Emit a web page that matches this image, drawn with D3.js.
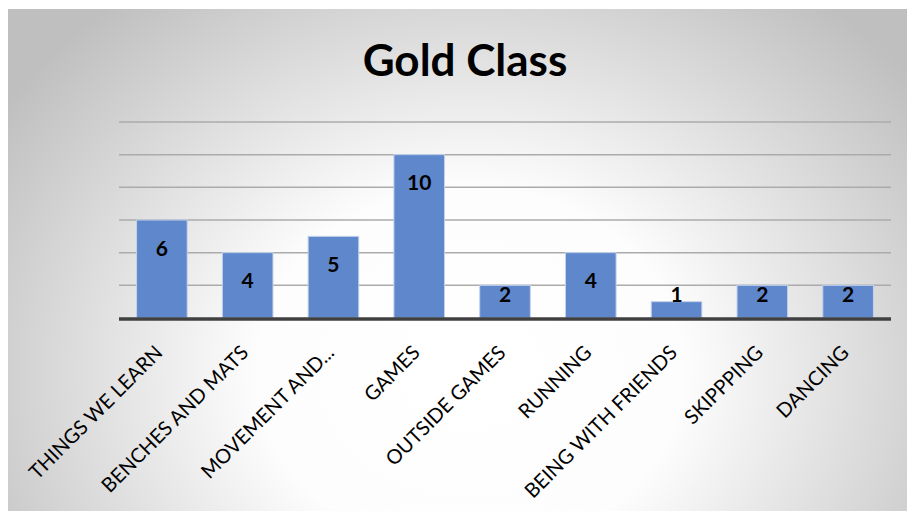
<!DOCTYPE html>
<html>
<head>
<meta charset="utf-8">
<script src="https://cdn.jsdelivr.net/npm/d3@7"></script>
<style>
  body { margin: 0; background: #ffffff; }
  svg { display: block; }
</style>
</head>
<body>
<svg id="chart"></svg>
<script>
// data
var categories = ["THINGS WE LEARN", "BENCHES AND MATS", "MOVEMENT AND...", "GAMES",
  "OUTSIDE GAMES", "RUNNING", "BEING WITH FRIENDS", "SKIPPPING", "DANCING"];
var counts = [6, 4, 5, 10, 2, 4, 1, 2, 2];
var yTicks = [0, 2, 4, 6, 8, 10, 12];
var chartTitle = "Gold Class";

var W = 907, H = 511;
var margin = { top: 0, right: 16, bottom: 193, left: 119 };

var svg = d3.select("#chart").attr("width", W).attr("height", H);

// background panel with radial gradient
var defs = svg.append("defs");
var grad = defs.append("radialGradient")
  .attr("id", "bg")
  .attr("gradientUnits", "userSpaceOnUse")
  .attr("cx", 470).attr("cy", 370).attr("r", 560)
  .attr("gradientTransform", "translate(470,370) scale(1,0.85) translate(-470,-370)");
grad.append("stop").attr("offset", "0").attr("stop-color", "#ffffff");
grad.append("stop").attr("offset", "0.38").attr("stop-color", "#fdfdfd");
grad.append("stop").attr("offset", "1").attr("stop-color", "#bfbfbf");

svg.append("rect")
  .attr("x", 8).attr("y", 9)
  .attr("width", W - 8).attr("height", H - 9)
  .attr("fill", "url(#bg)");

var x = d3.scaleBand()
  .domain(categories)
  .range([margin.left, W - margin.right])
  .paddingInner(0.41)
  .paddingOuter(0.205);

var y = d3.scaleLinear()
  .domain([0, 12])
  .range([H - margin.bottom, 122]);

// gridlines
svg.append("g")
  .selectAll("line")
  .data(yTicks.filter(function(d){ return d > 0; }))
  .enter()
  .append("line")
  .attr("x1", margin.left)
  .attr("x2", W - margin.right)
  .attr("y1", function(d){ return y(d); })
  .attr("y2", function(d){ return y(d); })
  .attr("stroke", "#ababab")
  .attr("stroke-width", 1.5);

// bars
svg.append("g")
  .selectAll("rect")
  .data(counts)
  .enter()
  .append("rect")
  .attr("x", function(d, i){ return x(categories[i]); })
  .attr("y", function(d){ return y(d); })
  .attr("width", x.bandwidth())
  .attr("height", function(d){ return y(0) - y(d); })
  .attr("fill", "#5f87cb")
  .attr("stroke", "#c4d2ec")
  .attr("stroke-width", 1);

// baseline
svg.append("line")
  .attr("x1", margin.left)
  .attr("x2", W - margin.right)
  .attr("y1", y(0) + 1)
  .attr("y2", y(0) + 1)
  .attr("stroke", "#404040")
  .attr("stroke-width", 3.5);

// value labels
svg.append("g")
  .selectAll("text")
  .data(counts)
  .enter()
  .append("text")
  .attr("x", function(d, i){ return x(categories[i]) + x.bandwidth() / 2; })
  .attr("y", function(d){ return Math.min(y(d) + 28, y(0) - 24); })
  .attr("dy", "0.36em")
  .attr("text-anchor", "middle")
  .style("font-family", "Lato, 'Open Sans', sans-serif")
  .style("font-weight", "bold")
  .style("font-size", "21px")
  .attr("fill", "#000")
  .text(function(d){ return d; });

// category labels, rotated
svg.append("g")
  .selectAll("text")
  .data(categories)
  .enter()
  .append("text")
  .attr("transform", function(d){
    return "translate(" + (x(d) + x.bandwidth() / 2 - 3) + "," + (y(0) + 31) + ") rotate(-45)";
  })
  .attr("text-anchor", "end")
  .attr("dy", "0.35em")
  .style("font-family", "Lato, 'Open Sans', sans-serif")
  .style("font-size", "20px")
  .attr("fill", "#000")
  .text(function(d){ return d; });

// title
svg.append("text")
  .attr("x", 465)
  .attr("y", 76)
  .attr("text-anchor", "middle")
  .style("font-family", "Lato, 'Open Sans', sans-serif")
  .style("font-weight", "bold")
  .style("font-size", "44px")
  .attr("fill", "#000")
  .text(chartTitle);
</script>
</body>
</html>
